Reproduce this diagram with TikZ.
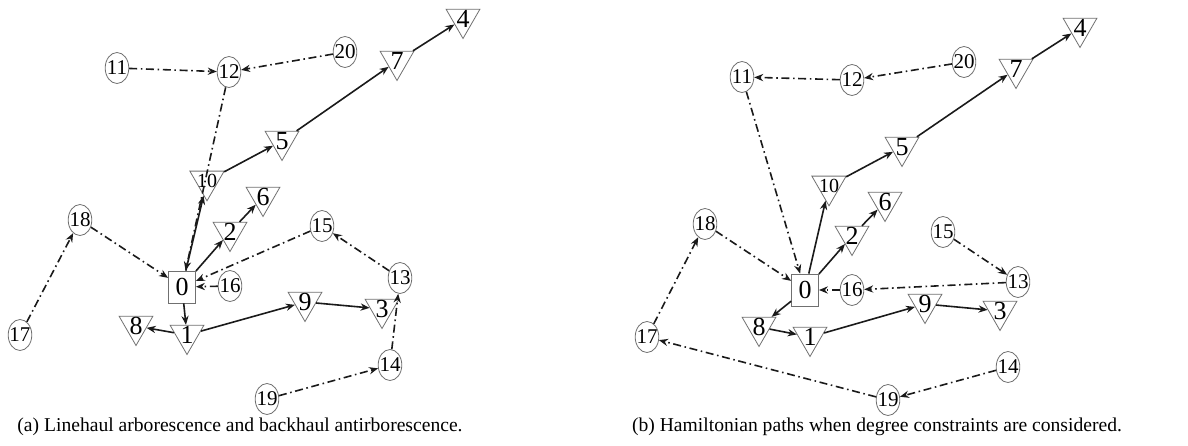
\documentclass[tikz,border=0pt]{standalone}
\usepackage{fontspec}
\setmainfont{Liberation Serif}
\usepackage{tikz}
\usetikzlibrary{arrows.meta,shapes.geometric}
\definecolor{nodeline}{HTML}{707070}
\definecolor{edgeline}{HTML}{1A1A1A}

\begin{document}
\begin{tikzpicture}[
  x=0.5pt, y=-0.5pt,
  lin/.style={draw=nodeline, line width=0.4pt, regular polygon, regular polygon sides=3, shape border rotate=180, minimum size=19.5pt, inner sep=-1.5pt, font=\fontsize{13}{13}\selectfont},
  bak/.style={draw=nodeline, line width=0.4pt, ellipse, minimum width=11.8pt, minimum height=15.5pt, inner sep=-2pt, font=\fontsize{10.5}{11}\selectfont},
  depot/.style={draw=nodeline, line width=0.4pt, rectangle, minimum width=13.5pt, minimum height=16pt, inner sep=0pt, font=\fontsize{13}{13}\selectfont},
  arr/.style={-{Stealth[length=4.5pt, width=3.6pt]}, line width=0.8pt, edgeline},
  darr/.style={arr, dash pattern=on 4pt off 1.8pt on 0.8pt off 1.8pt},
  caption/.style={font=\fontsize{9.8}{11}\selectfont}
]
  \useasboundingbox (0,0) rectangle (1188,445);

  % (a) linehaul arborescence and backhaul antiarborescence
  \node[depot] (a0) at (182,287) {0};
  \node[lin] (a1) at (187,335) {1};
  \node[lin] (a2) at (230,232) {2};
  \node[lin] (a3) at (382,309) {3};
  \node[lin] (a4) at (463,19) {4};
  \node[lin] (a5) at (282,141) {5};
  \node[lin] (a6) at (263,197) {6};
  \node[lin] (a7) at (397,61) {7};
  \node[lin] (a8) at (136,326) {8};
  \node[lin] (a9) at (305,302) {9};
  \node[lin, font=\fontsize{10}{10}\selectfont] (a10) at (207,181) {10};
  \node[bak] (a11) at (117,68) {11};
  \node[bak] (a12) at (229,72) {12};
  \node[bak] (a13) at (400,278) {13};
  \node[bak] (a14) at (390,365) {14};
  \node[bak] (a15) at (322,226) {15};
  \node[bak] (a16) at (230,286) {16};
  \node[bak] (a17) at (20,335) {17};
  \node[bak] (a18) at (80,220) {18};
  \node[bak] (a19) at (267,399) {19};
  \node[bak] (a20) at (345,52) {20};
  \node[caption] (acap) at (240,427) {(a) Linehaul arborescence and backhaul antirborescence.};

  \draw[arr] (a0) -- (a10);
  \draw[arr] (a0) -- (a2);
  \draw[arr] (a2) -- (a6);
  \draw[arr] (a10) -- (a5);
  \draw[arr] (a5) -- (a7);
  \draw[arr] (a7) -- (a4);
  \draw[arr] (a0) -- (a1);
  \draw[arr] (a1) -- (a8);
  \draw[arr] (a1) -- (a9);
  \draw[arr] (a9) -- (a3);

  \draw[darr] (a11) -- (a12);
  \draw[darr] (a20) -- (a12);
  \draw[darr] (a12) -- (a0);
  \draw[darr] (a18) -- (a0);
  \draw[darr] (a17) -- (a18);
  \draw[darr] (a15) -- (a0);
  \draw[darr] (a16) -- (a0);
  \draw[darr] (a13) -- (a15);
  \draw[darr] (a14) -- (a13);
  \draw[darr] (a19) -- (a14);

  % (b) hamiltonian paths with degree constraints
  \node[depot] (b0) at (805,290) {0};
  \node[lin] (b1) at (810,337) {1};
  \node[lin] (b2) at (852,236) {2};
  \node[lin] (b3) at (1000,311) {3};
  \node[lin] (b4) at (1080,28) {4};
  \node[lin] (b5) at (902,147) {5};
  \node[lin] (b6) at (885,202) {6};
  \node[lin] (b7) at (1016,69) {7};
  \node[lin] (b8) at (759,327) {8};
  \node[lin] (b9) at (925,304) {9};
  \node[lin, font=\fontsize{10}{10}\selectfont] (b10) at (829,186) {10};
  \node[bak] (b11) at (742,77) {11};
  \node[bak] (b12) at (852,80) {12};
  \node[bak] (b13) at (1018,282) {13};
  \node[bak] (b14) at (1008,367) {14};
  \node[bak] (b15) at (943,232) {15};
  \node[bak] (b16) at (852,290) {16};
  \node[bak] (b17) at (647,337) {17};
  \node[bak] (b18) at (705,224) {18};
  \node[bak] (b19) at (888,400) {19};
  \node[bak] (b20) at (964,62) {20};
  \node[caption] (bcap) at (877,427) {(b) Hamiltonian paths when degree constraints are considered.};

  \draw[arr] (b0) -- (b10);
  \draw[arr] (b0) -- (b2);
  \draw[arr] (b2) -- (b6);
  \draw[arr] (b10) -- (b5);
  \draw[arr] (b5) -- (b7);
  \draw[arr] (b7) -- (b4);
  \draw[arr] (b0) -- (b8);
  \draw[arr] (b8) -- (b1);
  \draw[arr] (b1) -- (b9);
  \draw[arr] (b9) -- (b3);

  \draw[darr] (b20) -- (b12);
  \draw[darr] (b12) -- (b11);
  \draw[darr] (b11) -- (b0);
  \draw[darr] (b18) -- (b0);
  \draw[darr] (b17) -- (b18);
  \draw[darr] (b19) -- (b17);
  \draw[darr] (b14) -- (b19);
  \draw[darr] (b15) -- (b13);
  \draw[darr] (b13) -- (b16);
  \draw[darr] (b16) -- (b0);
\end{tikzpicture}
\end{document}
